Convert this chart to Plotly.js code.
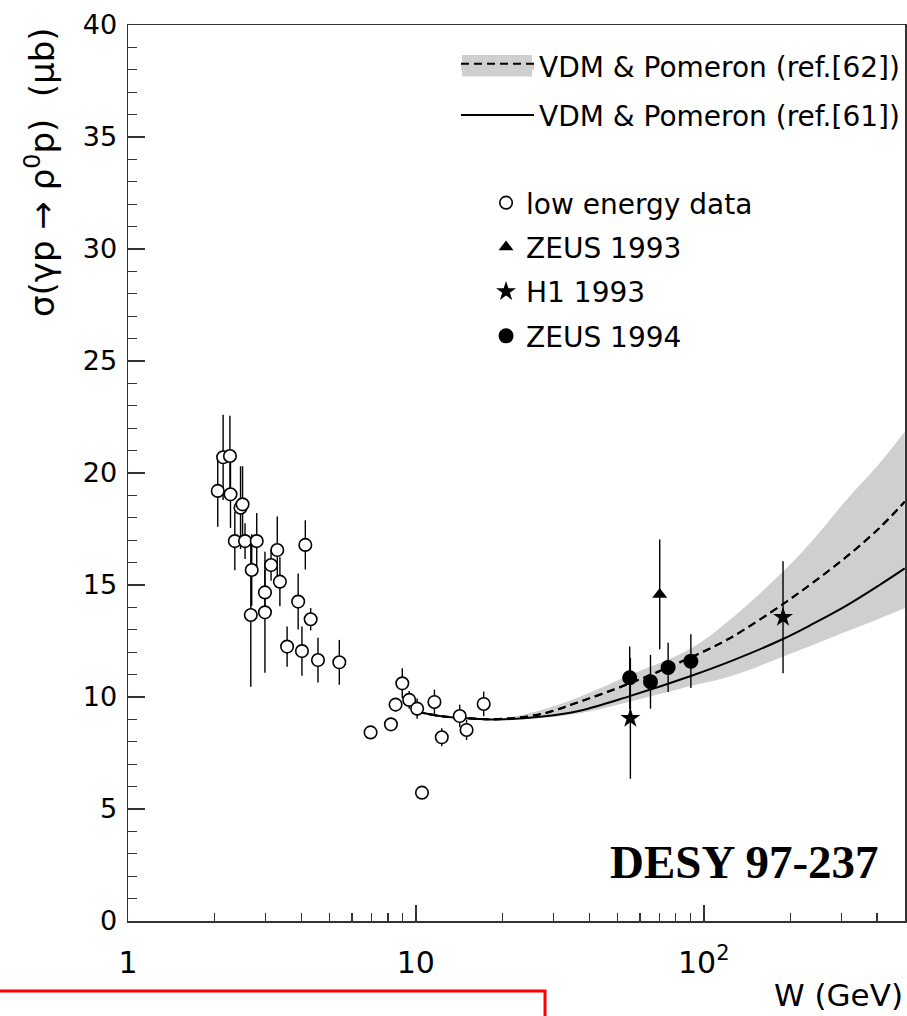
<!DOCTYPE html>
<html><head><meta charset="utf-8">
<script src="https://cdn.plot.ly/plotly-3.0.1.min.js"></script>
<style>html,body{margin:0;padding:0;background:#fff;} #chart{width:907px;height:1016px;}</style>
</head><body><div id="chart"></div>
<script>
// ---- low energy data (open circles) ----
const lowW     = [2.05, 2.14, 2.26, 2.27, 2.35, 2.46, 2.50, 2.55, 2.67, 2.69, 2.80, 2.99, 2.99, 3.14, 3.30, 3.37, 3.57, 3.90, 4.02, 4.13, 4.31, 4.57, 5.42, 6.96, 8.19, 8.50, 8.97, 9.48, 10.1, 10.5, 11.6, 12.3, 14.2, 15.0, 17.2];
const lowSigma = [19.2, 20.7, 20.76, 19.05, 16.96, 18.45, 18.6, 16.96, 13.66, 15.67, 16.96, 14.67, 13.78, 15.89, 16.56, 15.15, 12.25, 14.26, 12.05, 16.79, 13.47, 11.65, 11.55, 8.42, 8.78, 9.66, 10.61, 9.87, 9.48, 5.73, 9.78, 8.2, 9.15, 8.53, 9.69];
const lowErr   = [1.6, 1.9, 1.8, 1.5, 1.3, 1.85, 1.7, 0.8, 3.2, 1.6, 1.25, 1.0, 2.7, 0.7, 1.5, 1.1, 0.9, 1.25, 1.1, 1.1, 0.5, 1.0, 1.0, 0.0, 0.3, 0.3, 0.67, 0.4, 0.45, 0.0, 0.55, 0.4, 0.5, 0.45, 0.55];

// ---- ZEUS 1993 (triangle) ----
const zeus93W = [70.3];
const zeus93Sigma = [14.58];
const zeus93Err = [2.45];

// ---- H1 1993 (stars) ----
const h1W = [55.6, 188.5];
const h1Sigma = [9.05, 13.56];
const h1Err = [2.7, 2.5];

// ---- ZEUS 1994 (filled circles) ----
const zeus94W = [55.3, 65.3, 75.2, 90.2];
const zeus94Sigma = [10.86, 10.68, 11.32, 11.6];
const zeus94Err = [1.4, 1.2, 1.1, 1.2];

// ---- model curves ----
const curveW  = [10.06, 12.1, 15.8, 19.6, 27.0, 37.1, 55.3, 90.2, 123, 188.5, 239, 313, 408, 499];
const ref61   = [9.35, 9.15, 9.03, 9.0, 9.12, 9.39, 10.04, 10.94, 11.58, 12.59, 13.26, 14.08, 15.0, 15.74];
const ref62   = [9.35, 9.15, 9.04, 9.02, 9.23, 9.79, 10.61, 11.77, 12.62, 14.15, 15.1, 16.26, 17.55, 18.72];
const bandUp  = [9.35, 9.15, 9.04, 9.04, 9.4, 10.01, 10.98, 12.17, 13.44, 15.6, 17.0, 18.8, 20.43, 21.84];
const bandLo  = [9.35, 9.15, 9.02, 9.0, 9.06, 9.27, 9.79, 10.49, 10.91, 11.8, 12.32, 12.92, 13.51, 13.96];

// ---- text ----
const xTickVals = [1, 10, 100];
const xTickText = ['1', '10', '10<sup>2</sup>'];
const name62 = 'VDM &amp; Pomeron (ref.[62])';
const name61 = 'VDM &amp; Pomeron (ref.[61])';

const FONT = 'DejaVu Sans, Liberation Sans, sans-serif';
const bandColor = '#cfcfcf';
const errStyle = (arr) => ({type: 'data', array: arr, visible: true, color: '#000', thickness: 1.4, width: 0});

const traces = [
  {x: curveW, y: bandLo, mode: 'lines', line: {width: 0, shape: 'spline'}, showlegend: false, hoverinfo: 'skip', legendgroup: 'g62'},
  {x: curveW, y: ref62, mode: 'lines', name: name62, fill: 'tonexty', fillcolor: bandColor,
   line: {color: '#000', width: 2, dash: '8px,5px', shape: 'spline'}, legend: 'legend', legendgroup: 'g62'},
  {x: curveW, y: bandUp, mode: 'lines', fill: 'tonexty', fillcolor: bandColor, line: {width: 0, shape: 'spline'},
   showlegend: false, hoverinfo: 'skip', legendgroup: 'g62'},
  {x: curveW, y: ref62, mode: 'lines', line: {color: '#000', width: 2, dash: '8px,5px', shape: 'spline'}, showlegend: false, hoverinfo: 'skip'},
  {x: curveW, y: ref61, mode: 'lines', name: name61, line: {color: '#000', width: 2, shape: 'spline'}, legend: 'legend', legendgroup: 'g61'},
  {x: lowW, y: lowSigma, error_y: errStyle(lowErr), mode: 'markers', name: 'low energy data', legend: 'legend2', legendgroup: 'low',
   marker: {symbol: 'circle', size: 12.5, color: '#fff', line: {color: '#000', width: 1.6}}},
  {x: zeus93W, y: zeus93Sigma, error_y: errStyle(zeus93Err), mode: 'markers', name: 'ZEUS 1993', legend: 'legend2', legendgroup: 'z93',
   marker: {symbol: 'triangle-up', size: 13, color: '#000'}},
  {x: h1W, y: h1Sigma, error_y: errStyle(h1Err), mode: 'markers', name: 'H1 1993', legend: 'legend2', legendgroup: 'h1',
   marker: {symbol: 'star', size: 15, color: '#000'}},
  {x: zeus94W, y: zeus94Sigma, error_y: errStyle(zeus94Err), mode: 'markers', name: 'ZEUS 1994', legend: 'legend2', legendgroup: 'z94',
   marker: {symbol: 'circle', size: 15, color: '#000'}}
];

const axisCommon = {showline: true, linecolor: '#333', linewidth: 1.5, mirror: true, showgrid: false, zeroline: false,
  ticks: 'inside', tickcolor: '#333', tickwidth: 1.5};

const layout = {
  width: 907, height: 1016,
  margin: {l: 128, r: 2, t: 25, b: 95},
  paper_bgcolor: '#fff', plot_bgcolor: '#fff',
  xaxis: Object.assign({}, axisCommon, {
    type: 'log', range: [0, 2.699], tickmode: 'array', tickvals: xTickVals, ticktext: xTickText, ticklen: 16,
    tickfont: {family: FONT, size: 30, color: '#000'}, ticklabelstandoff: 14,
    minor: {ticks: 'inside', ticklen: 8, tickwidth: 1.2, tickcolor: '#333', dtick: 'D1', showgrid: false}
  }),
  yaxis: Object.assign({}, axisCommon, {
    range: [0, 40], tickmode: 'linear', tick0: 0, dtick: 5, ticklen: 17,
    tickfont: {family: FONT, size: 27, color: '#000'}, ticklabelstandoff: 4,
    minor: {ticks: 'inside', ticklen: 9, tickwidth: 1.2, tickcolor: '#333', dtick: 1, showgrid: false}
  }),
  legend: {x: 1, xanchor: 'right', y: 0.9822, yanchor: 'top', bgcolor: 'rgba(0,0,0,0)', borderwidth: 0,
    font: {family: FONT, size: 28, color: '#000'}, itemwidth: 73, tracegroupgap: 10, traceorder: 'grouped'},
  legend2: {x: 0.4608, xanchor: 'left', y: 0.8293, yanchor: 'top', bgcolor: 'rgba(0,0,0,0)', borderwidth: 0,
    font: {family: FONT, size: 28, color: '#000'}, itemwidth: 30, tracegroupgap: 5, traceorder: 'grouped'},
  annotations: [
    {text: 'σ(γp → ρ<sup>0</sup>p)  (μb)', xref: 'paper', yref: 'paper', x: -0.1133, y: 1.0, xanchor: 'center', yanchor: 'top',
     textangle: -90, showarrow: false, font: {family: FONT, size: 34, color: '#000'}},
    {text: 'W (GeV)', xref: 'paper', yref: 'paper', x: 1.0, y: -0.0826, xanchor: 'right', yanchor: 'middle',
     showarrow: false, font: {family: FONT, size: 31, color: '#000'}},
    {text: '<b>DESY 97-237</b>', xref: 'paper', yref: 'paper', x: 0.7928, y: 0.0664, xanchor: 'center', yanchor: 'middle',
     showarrow: false, font: {family: 'Liberation Serif, Times New Roman, serif', size: 47, color: '#000'}}
  ],
  shapes: [
    // grey box behind the first legend symbol (legend decoration)
    {type: 'rect', xref: 'paper', yref: 'paper', x0: 0.4299, x1: 0.52, y0: 0.9425, y1: 0.9665,
     line: {width: 0}, fillcolor: bandColor, layer: 'above'},
    {type: 'rect', xref: 'paper', yref: 'paper', x0: -0.18, x1: 0.5367, y0: -0.0781, y1: -0.13,
     line: {color: '#ff0000', width: 3}, fillcolor: 'rgba(0,0,0,0)'}
  ]
};

Plotly.newPlot('chart', traces, layout, {displayModeBar: false, staticPlot: true});
</script>
</body></html>
